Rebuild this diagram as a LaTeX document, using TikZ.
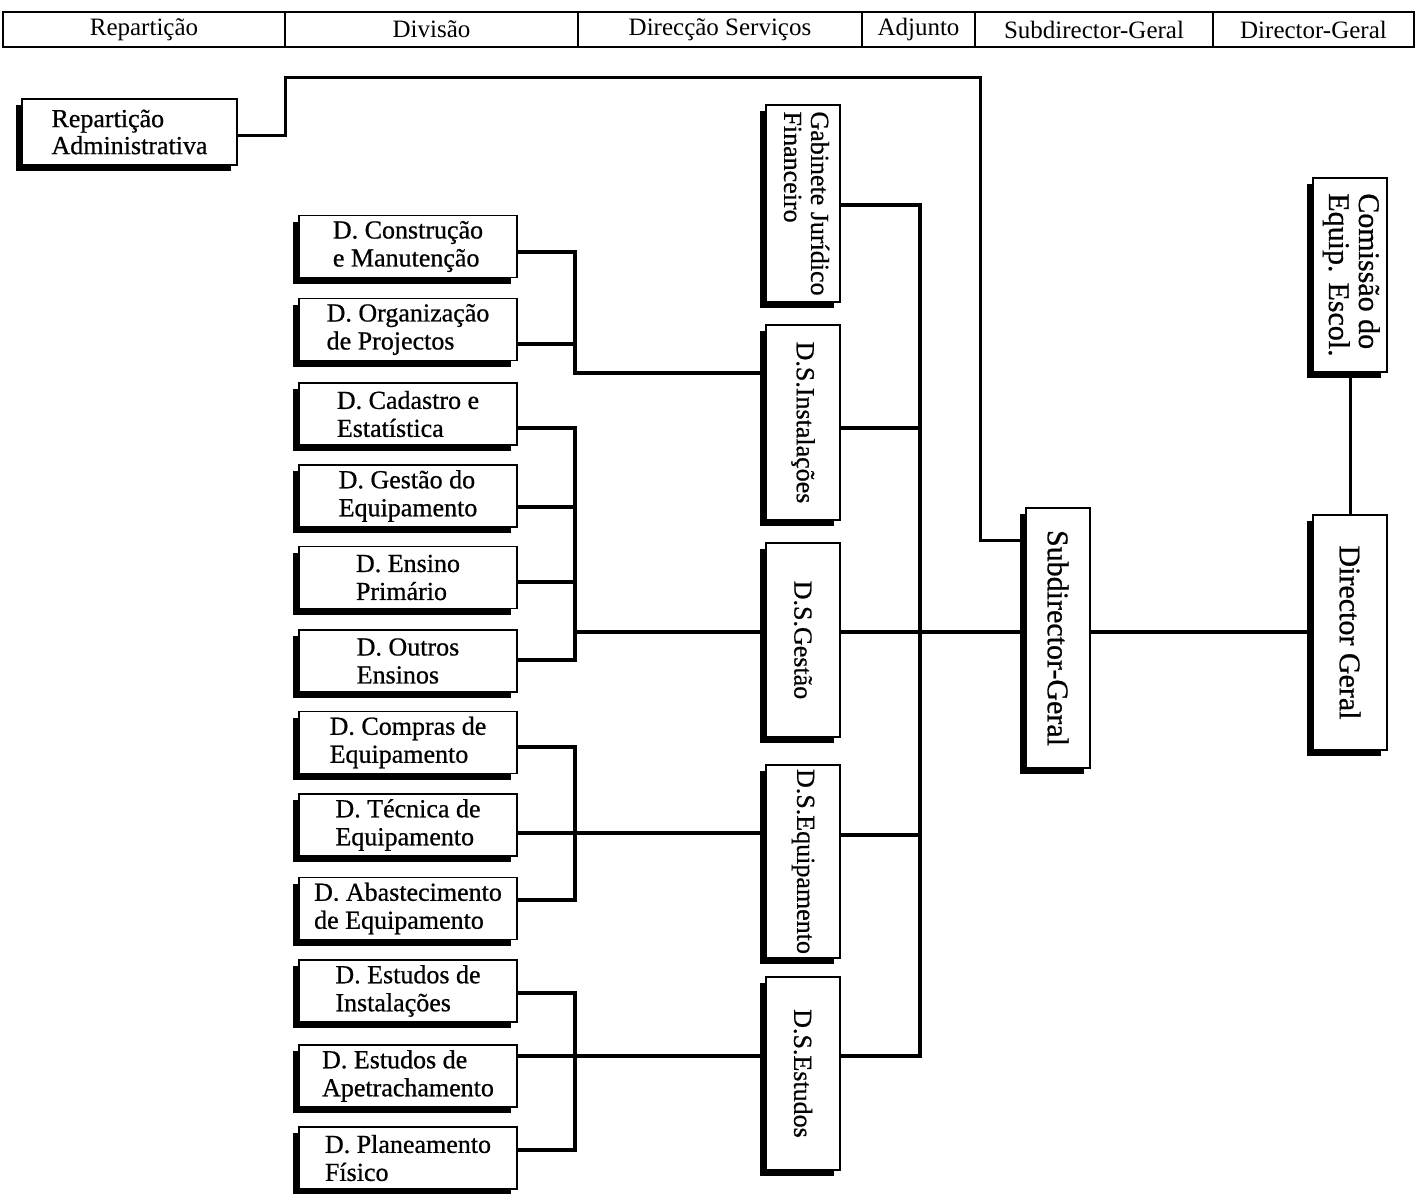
\documentclass[tikz,border=0pt]{standalone}
\usepackage{fontspec}
\setmainfont{Liberation Serif}
\newfontfamily\heavy{Liberation Serif}[FakeBold=0.7]
\usepackage{graphicx}
\usetikzlibrary{shadows}
\begin{document}
\begin{tikzpicture}[x=1pt,y=-1pt,
  box/.style={draw, line width=1.6pt, fill=white, inner sep=0pt,
    drop shadow={shadow xshift=-6pt, shadow yshift=-6pt, opacity=1, fill=black}},
  lbox/.style={box, minimum width=218pt, minimum height=62pt, align=left, font=\heavy\fontsize{26}{28}\selectfont},
  mbox/.style={box, minimum width=74pt, font=\heavy\fontsize{26}{27}\selectfont},
  rbox/.style={box, minimum width=74pt, font=\heavy\fontsize{30}{30}\selectfont},
  hcell/.style={draw, line width=1.8pt, minimum height=35pt, inner sep=0pt, font=\fontsize{25}{25}\selectfont},
  conn/.style={line width=4pt},
  thinconn/.style={line width=3pt}]
\useasboundingbox (0,0) rectangle (1417,1194);

% header
\node[hcell, minimum width=282pt] (h1) at (144,29.5) {Repartição};
\node[hcell, minimum width=293pt] (h2) at (431.5,29.5) {Divisão};
\node[hcell, minimum width=284pt] (h3) at (720,29.5) {Direcção Serviços};
\node[hcell, minimum width=113pt] (h4) at (918.5,29.5) {Adjunto};
\node[hcell, minimum width=238pt] (h5) at (1094,29.5) {Subdirector-Geral};
\node[hcell, minimum width=201pt] (h6) at (1313.5,29.5) {Director-Geral};

% Repartição Administrativa
\node[box, minimum width=215pt, minimum height=66pt, align=left, font=\heavy\fontsize{26}{27}\selectfont] (rep) at (129.5,132) {Repartição\\Administrativa};

% left column (Divisão)
\node[lbox] (c1) at (408,246.5) {D. Construção\\e Manutenção};
\node[lbox] (c2) at (408,329.5) {D. Organização\\de Projectos};
\node[lbox] (c3) at (408,414) {D. Cadastro e\\Estatística};
\node[lbox] (c4) at (408,496) {D. Gestão do\\Equipamento};
\node[lbox] (c5) at (408,577.5) {D. Ensino\\Primário};
\node[lbox] (c6) at (408,661) {D. Outros\\Ensinos};
\node[lbox] (c7) at (408,742.5) {D. Compras de\\Equipamento};
\node[lbox] (c8) at (408,825) {D. Técnica de\\Equipamento};
\node[lbox] (c9) at (408,908.5) {D. Abastecimento\\de Equipamento};
\node[lbox] (c10) at (408,991) {D. Estudos de\\Instalações};
\node[lbox] (c11) at (408,1076) {D. Estudos de\\Apetrachamento};
\node[lbox] (c12) at (408,1158) {D. Planeamento\\Físico};

% middle column (Direcção Serviços)
\node[mbox, minimum height=197pt] (gab) at (803,203.5) {\rotatebox{-90}{\begin{tabular}{@{}l@{}}Gabinete Jurídico\\Financeiro\end{tabular}}};
\node[mbox, minimum height=195pt] (dsi) at (803,422.5) {\rotatebox{-90}{D.S.Instalações}};
\node[mbox, minimum height=194pt] (dsg) at (803,640) {\rotatebox{-90}{D.S.Gestão}};
\node[mbox, minimum height=193pt] (dse) at (803,861.5) {\rotatebox{-90}{D.S.Equipamento}};
\node[mbox, minimum height=193pt] (dst) at (803,1073.5) {\rotatebox{-90}{D.S.Estudos}};

% right
\node[rbox, minimum width=64pt, minimum height=260pt] (sub) at (1058,638) {\rotatebox{-90}{Subdirector-Geral}};
\node[rbox, minimum height=235pt] (dir) at (1350,632.5) {\rotatebox{-90}{Director Geral}};
\node[rbox, minimum height=194pt] (com) at (1350,275) {\rotatebox{-90}{\begin{tabular}{@{}l@{}}Comissão do\\Equip. Escol.\end{tabular}}};

% connector coordinates
\coordinate (r1) at (285,135);
\coordinate (r2) at (980,77);
\coordinate (r3) at (980,540);
\coordinate (a1) at (575,252);
\coordinate (a2) at (575,344);
\coordinate (a3) at (575,373);
\coordinate (b1) at (575,428);
\coordinate (b2) at (575,507);
\coordinate (b3) at (575,582);
\coordinate (b4) at (575,660);
\coordinate (bm) at (575,632);
\coordinate (d1) at (575,747);
\coordinate (d2) at (575,833);
\coordinate (d3) at (575,900);
\coordinate (e1) at (575,993);
\coordinate (e2) at (575,1056);
\coordinate (e3) at (575,1150);
\coordinate (k1) at (920,205);
\coordinate (k2) at (920,428);
\coordinate (k3) at (920,632);
\coordinate (k4) at (920,835);
\coordinate (k5) at (920,1056);

% Repartição -> Subdirector
\draw[thinconn] (r1 -| rep.east) -- (r1) |- (r2) -- (r3) -- (r3 -| sub.west);

% group 1
\draw[conn] (a1 -| c1.east) -- (a1) -- (a3) -- (a3 -| dsi.west);
\draw[conn] (a2 -| c2.east) -- (a2);
% group 2
\draw[conn] (b1 -| c3.east) -- (b1) -- (b4) -- (b4 -| c6.east);
\draw[conn] (b2 -| c4.east) -- (b2);
\draw[conn] (b3 -| c5.east) -- (b3);
\draw[conn] (bm) -- (bm -| dsg.west);
% group 3
\draw[conn] (d1 -| c7.east) -- (d1) -- (d3) -- (d3 -| c9.east);
\draw[conn] (d2 -| c8.east) -- (d2 -| dse.west);
% group 4
\draw[conn] (e1 -| c10.east) -- (e1) -- (e3) -- (e3 -| c12.east);
\draw[conn] (e2 -| c11.east) -- (e2 -| dst.west);

% bus
\draw[conn] (k1 -| gab.east) -- (k1) -- (k5) -- (k5 -| dst.east);
\draw[conn] (k2 -| dsi.east) -- (k2);
\draw[conn] (k4 -| dse.east) -- (k4);
\draw[conn] (k3 -| dsg.east) -- (k3 -| sub.west);
\draw[conn] (k3 -| sub.east) -- (k3 -| dir.west);
\draw[thinconn] (com.south) -- (dir.north);
\end{tikzpicture}
\end{document}
